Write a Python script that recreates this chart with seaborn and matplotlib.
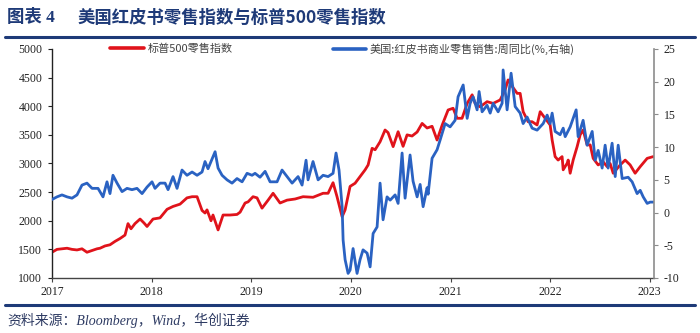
import numpy as np
import pandas as pd
import matplotlib
matplotlib.use("Agg")
import matplotlib.pyplot as plt
import seaborn as sns
from matplotlib.lines import Line2D

# ---------------- data ----------------
red_t = [2017.000, 2017.050, 2017.100, 2017.151, 2017.201, 2017.251, 2017.301, 2017.351, 2017.402, 2017.452,
         2017.482, 2017.532, 2017.582, 2017.633, 2017.683, 2017.733, 2017.763, 2017.793, 2017.833, 2017.884,
         2017.924, 2017.954, 2018.014, 2018.084, 2018.155, 2018.215, 2018.285, 2018.355, 2018.406, 2018.456,
         2018.506, 2018.536, 2018.556, 2018.596, 2018.616, 2018.667, 2018.717, 2018.787, 2018.857, 2018.888,
         2018.938, 2018.968, 2019.018, 2019.058, 2019.108, 2019.169, 2019.219, 2019.289, 2019.359, 2019.440,
         2019.520, 2019.620, 2019.721, 2019.771, 2019.821, 2019.861, 2019.912, 2019.942, 2019.992, 2020.042,
         2020.092, 2020.143, 2020.173, 2020.213, 2020.243, 2020.293, 2020.343, 2020.373, 2020.424, 2020.474,
         2020.524, 2020.564, 2020.614, 2020.665, 2020.715, 2020.765, 2020.815, 2020.865, 2020.916, 2020.976,
         2021.026, 2021.066, 2021.116, 2021.167, 2021.217, 2021.247, 2021.297, 2021.367, 2021.428, 2021.498,
         2021.548, 2021.578, 2021.618, 2021.669, 2021.699, 2021.729, 2021.779, 2021.819, 2021.869, 2021.900,
         2021.950, 2022.000, 2022.020, 2022.050, 2022.080, 2022.120, 2022.131, 2022.171, 2022.181, 2022.201,
         2022.231, 2022.271, 2022.301, 2022.331, 2022.371, 2022.402, 2022.432, 2022.482, 2022.532, 2022.572,
         2022.602, 2022.633, 2022.703, 2022.753, 2022.803, 2022.853, 2022.904, 2022.974, 2023.034]
red_v = [1450, 1500, 1510, 1520, 1500, 1490, 1510, 1450, 1480, 1510,
         1520, 1560, 1580, 1640, 1690, 1750, 1950, 1860, 1950, 2030,
         1960, 1900, 2030, 2050, 2200, 2250, 2290, 2400, 2420, 2420,
         2180, 2135, 2190, 2000, 2100, 1840, 2100, 2100, 2110, 2150,
         2310, 2330, 2420, 2400, 2220, 2360, 2480, 2310, 2360, 2380,
         2420, 2410, 2480, 2480, 2665, 2420, 2070, 2190, 2600, 2655,
         2770, 2890, 2975, 3265, 3240, 3380, 3585, 3540, 3295, 3555,
         3300, 3500, 3480, 3550, 3700, 3620, 3650, 3410, 3670, 3935,
         3965, 3790, 3790, 4050, 4200, 4050, 3990, 4080, 4050, 4110,
         4285, 4460, 4350, 4225, 4225, 3905, 3730, 3730, 3673, 3905,
         3790, 3673, 3410, 3120, 3060, 3120, 2890, 3005, 3060, 2830,
         3060, 3295, 3500, 3585, 3325, 3325, 3090, 2975, 3030, 2945,
         3000, 2830, 2975, 3060, 2975, 2830, 2945, 3090, 3120]

blue_t = [2017.000, 2017.050, 2017.100, 2017.151, 2017.201, 2017.251, 2017.301, 2017.351, 2017.402, 2017.462,
          2017.512, 2017.552, 2017.582, 2017.612, 2017.653, 2017.703, 2017.753, 2017.803, 2017.853, 2017.904,
          2017.954, 2018.004, 2018.034, 2018.084, 2018.135, 2018.165, 2018.215, 2018.255, 2018.305, 2018.355,
          2018.406, 2018.456, 2018.506, 2018.536, 2018.566, 2018.637, 2018.667, 2018.707, 2018.757, 2018.807,
          2018.857, 2018.908, 2018.958, 2019.008, 2019.038, 2019.088, 2019.139, 2019.189, 2019.259, 2019.309,
          2019.359, 2019.410, 2019.470, 2019.510, 2019.550, 2019.570, 2019.620, 2019.671, 2019.721, 2019.771,
          2019.821, 2019.851, 2019.881, 2019.912, 2019.922, 2019.942, 2019.972, 2019.992, 2020.022, 2020.062,
          2020.092, 2020.122, 2020.163, 2020.193, 2020.223, 2020.263, 2020.293, 2020.323, 2020.363, 2020.394,
          2020.444, 2020.474, 2020.514, 2020.544, 2020.594, 2020.624, 2020.665, 2020.695, 2020.725, 2020.765,
          2020.775, 2020.815, 2020.865, 2020.896, 2020.946, 2020.996, 2021.046, 2021.076, 2021.127, 2021.167,
          2021.197, 2021.227, 2021.267, 2021.287, 2021.317, 2021.367, 2021.398, 2021.428, 2021.478, 2021.518,
          2021.528, 2021.568, 2021.608, 2021.649, 2021.699, 2021.729, 2021.769, 2021.819, 2021.869, 2021.930,
          2021.970, 2022.000, 2022.020, 2022.050, 2022.100, 2022.131, 2022.151, 2022.201, 2022.231, 2022.261,
          2022.281, 2022.331, 2022.371, 2022.422, 2022.452, 2022.482, 2022.522, 2022.552, 2022.582, 2022.622,
          2022.653, 2022.683, 2022.723, 2022.783, 2022.823, 2022.873, 2022.904, 2022.934, 2022.974, 2023.004,
          2023.034]
blue_v = [2.0, 2.4, 2.7, 2.4, 2.2, 2.7, 4.2, 4.5, 3.7, 3.7,
          2.4, 4.7, 2.9, 5.7, 4.5, 3.2, 3.7, 3.5, 3.7, 2.9,
          3.9, 4.7, 3.7, 4.5, 4.5, 3.5, 5.5, 3.7, 6.5, 5.7,
          6.2, 5.7, 6.2, 7.8, 6.7, 9.3, 6.8, 5.7, 5.0, 4.5,
          5.2, 4.7, 6.0, 5.7, 6.0, 5.4, 6.3, 4.7, 4.7, 6.5,
          5.5, 4.5, 5.5, 4.2, 8.0, 5.0, 7.8, 5.0, 5.7, 5.5,
          6.0, 9.1, 6.5, 0.9, -4.2, -7.2, -9.3, -8.8, -5.5, -9.3,
          -7.2, -5.7, -6.2, -8.3, -3.2, -2.2, 4.5, -1.1, 2.4, 1.9,
          2.7, 1.4, 9.1, 2.2, 8.8, 4.8, 2.4, 4.3, 0.9, 3.8,
          2.8, 8.3, 9.6, 11.1, 13.6, 13.1, 14.1, 17.7, 19.5, 14.4,
          16.7, 17.7, 15.7, 18.5, 15.4, 16.4, 15.2, 16.7, 15.4, 16.7,
          21.8, 15.7, 21.3, 16.2, 15.2, 13.6, 14.6, 12.9, 12.6, 13.6,
          14.9, 13.6, 15.2, 12.4, 11.9, 12.9, 11.6, 13.1, 14.4, 15.7,
          11.6, 14.1, 10.3, 12.4, 8.0, 9.5, 6.8, 10.3, 6.8, 10.6,
          5.5, 10.3, 5.2, 5.4, 4.7, 2.9, 3.4, 2.4, 1.4, 1.6,
          1.6]

red_label = "标普500零售指数"
blue_label = "美国:红皮书商业零售销售:周同比(%,右轴)"
title_num = "图表 4"
title_text = "美国红皮书零售指数与标普500零售指数"
source_text = "资料来源：Bloomberg，Wind，华创证券"
year_ticks = ["2017", "2018", "2019", "2020", "2021", "2022", "2023"]
left_ticks = [1000, 1500, 2000, 2500, 3000, 3500, 4000, 4500, 5000]
right_ticks = [-10, -5, 0, 5, 10, 15, 20, 25]


def to_date(ts):
    ts = np.asarray(ts, dtype=float)
    return pd.to_datetime("2017-01-01") + pd.to_timedelta((ts - 2017.0) * 365.25, unit="D")


red_df = pd.DataFrame({"date": to_date(red_t), "value": red_v})
blue_df = pd.DataFrame({"date": to_date(blue_t), "value": blue_v})

# ---------------- style ----------------
sns.set_style("ticks")
plt.rcParams["font.family"] = ["Liberation Serif", "Noto Sans CJK SC", "DejaVu Sans"]
plt.rcParams["axes.unicode_minus"] = False

RED = "#E0131B"
BLUE = "#2A62C2"
NAVY = "#1E3A78"

W, H = 700, 333
fig = plt.figure(figsize=(W / 100, H / 100), dpi=100)
ax = fig.add_axes([52 / W, 1 - 278 / H, (654 - 52) / W, (278 - 49) / H])
ax2 = ax.twinx()

sns.lineplot(data=red_df, x="date", y="value", ax=ax, color=RED, linewidth=2.0, legend=False)
sns.lineplot(data=blue_df, x="date", y="value", ax=ax2, color=BLUE, linewidth=2.0, legend=False)

ax.set_ylim(1000, 5000)
ax2.set_ylim(-10, 25)
ax.set_yticks(left_ticks)
ax2.set_yticks(right_ticks)
ax.set_yticklabels([str(v) for v in left_ticks])
ax2.set_yticklabels([str(v) for v in right_ticks])

xt = pd.to_datetime([f"{y}-01-01" for y in year_ticks])
ax.set_xticks(xt)
ax.set_xticklabels(year_ticks)
ax.set_xlim(pd.Timestamp("2017-01-01"), pd.Timestamp("2023-01-17"))

for a in (ax, ax2):
    a.set_xlabel("")
    a.set_ylabel("")
    a.spines["top"].set_visible(False)

ax.spines["left"].set_color("#222222")
ax.spines["bottom"].set_color("#444444")
ax.spines["right"].set_visible(False)
ax2.spines["left"].set_visible(False)
ax2.spines["bottom"].set_visible(False)
ax2.spines["right"].set_color("#8C8C8C")
ax.spines["left"].set_linewidth(1.0)
ax.spines["bottom"].set_linewidth(1.0)
ax2.spines["right"].set_linewidth(1.2)

ax.tick_params(axis="y", direction="out", length=3, width=0.8, pad=4, labelsize=8.5,
               labelcolor="#222222", color="#222222")
ax.tick_params(axis="x", direction="out", length=3, width=0.8, pad=3, labelsize=8.5,
               labelcolor="#222222", color="#444444")
ax2.tick_params(axis="y", direction="out", length=3, width=0.8, pad=4, labelsize=8.5,
                labelcolor="#222222", color="#8C8C8C")

# legends
fs_leg = 8
cjk = ["Noto Sans CJK SC", "DejaVu Sans"]
h_red = Line2D([], [], color=RED, linewidth=2.6)
h_blue = Line2D([], [], color=BLUE, linewidth=2.6)
leg1 = fig.legend(handles=[h_red], labels=[red_label], loc="center left",
                  bbox_to_anchor=(110 / W, 1 - 49 / H), frameon=False, borderpad=0,
                  borderaxespad=0, handlelength=3.1, handletextpad=0.3,
                  prop={"family": cjk, "size": fs_leg})
leg2 = fig.legend(handles=[h_blue], labels=[blue_label], loc="center left",
                  bbox_to_anchor=(333 / W, 1 - 49 / H), frameon=False, borderpad=0,
                  borderaxespad=0, handlelength=3.0, handletextpad=0.3,
                  prop={"family": cjk, "size": fs_leg})
for lg in (leg1, leg2):
    for t in lg.get_texts():
        t.set_color("#444444")

# title, rules, source
fig.text(7 / W, 1 - 18 / H, title_num, ha="left", va="center", fontsize=12.5,
         fontweight="bold", color=NAVY, family=["Liberation Serif", "Noto Sans CJK SC"])
fig.text(78 / W, 1 - 18 / H, title_text, ha="left", va="center", fontsize=12.5,
         fontweight="bold", color=NAVY, family=["Noto Sans CJK SC", "DejaVu Sans"])
fig.add_artist(Line2D([5 / W, 695 / W], [1 - 37 / H, 1 - 37 / H], color=NAVY, linewidth=2.2,
                      transform=fig.transFigure))
fig.add_artist(Line2D([5 / W, 695 / W], [1 - 305 / H, 1 - 305 / H], color=NAVY, linewidth=2.2,
                      transform=fig.transFigure))
fig.text(7 / W, 1 - 320 / H, source_text, ha="left", va="center", fontsize=10,
         style="italic", color="#2E3B63", family=["Liberation Serif", "Noto Sans CJK SC"])

fig.savefig("out.png", dpi=100)
